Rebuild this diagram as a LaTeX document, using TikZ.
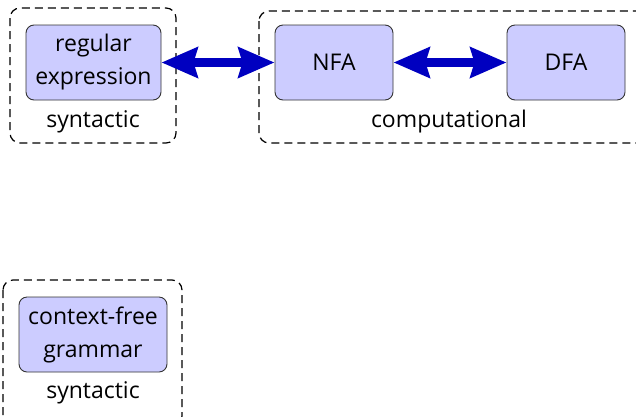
\documentclass[tikz,border=0pt]{standalone}
\usepackage{fontspec}
\setmainfont{Open Sans}
\usetikzlibrary{arrows.meta, positioning}
\definecolor{modelfill}{HTML}{CCCCFF}
\definecolor{equivblue}{HTML}{0000C0}

\begin{document}
\begin{tikzpicture}[x=1pt, y=-1pt,
  font=\fontsize{23}{33}\selectfont,
  model/.style={draw=black!80, fill=modelfill, rounded corners=8pt,
    line width=0.9pt, align=center, inner sep=0pt, minimum height=75pt},
  group/.style={draw, dash pattern=on 8pt off 5pt, rounded corners=10pt,
    line width=1.2pt},
  equiv/.style={equivblue, line width=9pt,
    {Stealth[length=36pt,width=30pt,inset=4pt]}-{Stealth[length=36pt,width=30pt,inset=4pt]}}
]
  \useasboundingbox (0,0) rectangle (636,416);

  % dashed groups
  \draw[group] (10,8) rectangle (176,143);
  \draw[group] (259,11) rectangle (648,143);
  \draw[group] (3,280) rectangle (182,426);

  % models
  \node[model, minimum width=135pt] (regex) at (93.5,62.5) {regular\\expression};
  \node[model, minimum width=118pt] (nfa) at (334,62.5) {NFA};
  \node[model, minimum width=118pt] (dfa) at (566,62.5) {DFA};
  \node[model, minimum width=148pt] (cfg) at (93,334.5) {context-free\\grammar};

  % group labels
  \node (synre) at (93,122) {syntactic};
  \node (comp) at (449,122) {computational};
  \node (syncfg) at (93,393) {syntactic};

  % equivalences
  \draw[equiv] (regex) -- (nfa);
  \draw[equiv] (nfa) -- (dfa);
\end{tikzpicture}
\end{document}
